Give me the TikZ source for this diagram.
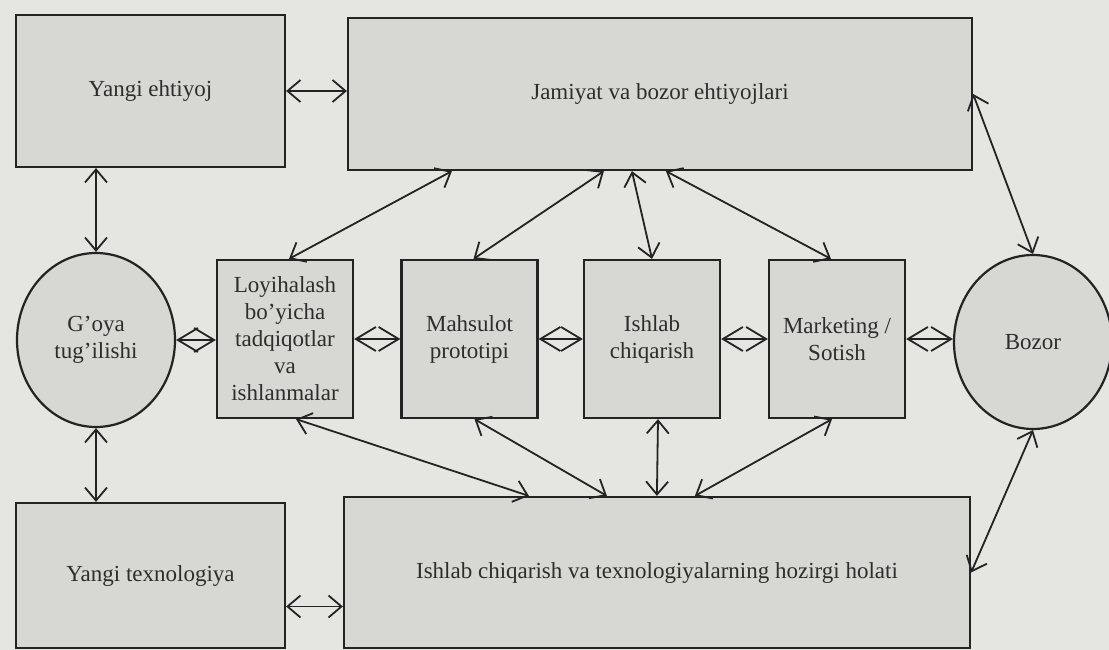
\documentclass[tikz,border=0pt]{standalone}
\usepackage{fontspec}
\setmainfont{Liberation Serif}
\usetikzlibrary{arrows.meta,shapes.geometric}

\definecolor{paper}{RGB}{229,229,225}
\definecolor{boxfill}{RGB}{215,215,212}
\definecolor{inkline}{RGB}{35,35,35}
\definecolor{inktext}{RGB}{45,45,45}

\tikzset{
	blok/.style={draw=inkline, line width=2.2pt, fill=boxfill, text=inktext, align=center, inner sep=0pt, font=\fontsize{23}{27}\selectfont},
	doira/.style={blok, ellipse, minimum width=158pt, minimum height=174pt},
	orta/.style={blok, minimum width=136pt, minimum height=158pt},
	ikki/.style={draw=inkline, line width=1.8pt, {Straight Barb[length=13pt,width=22pt]}-{Straight Barb[length=13pt,width=22pt]}},
	romb/.style={draw=inkline, line width=1.8pt, {Straight Barb[length=20pt,width=24pt]}-{Straight Barb[length=20pt,width=24pt]}}
}

\begin{document}
\begin{tikzpicture}[x=1pt,y=-1pt]
	\useasboundingbox (0,0) rectangle (1109,650);
	\fill[paper] (0,0) rectangle (1109,650);
	
	\node[blok, minimum width=269pt, minimum height=152pt] (yangi) at (150.5,91) {Yangi ehtiyoj};
	\node[blok, minimum width=624pt, minimum height=152pt] (jamiyat) at (660,94) {Jamiyat va bozor ehtiyojlari};
	\node[doira] (goya) at (96,340) {G'oya\\tug'ilishi};
	\node[orta] (loyiha) at (285,339) {Loyihalash\\bo'yicha\\tadqiqotlar\\va\\ishlanmalar};
	\node[orta] (mahsulot) at (469.5,339) {Mahsulot\\prototipi};
	\node[orta] (ishlab) at (652,339) {Ishlab\\chiqarish};
	\node[orta] (marketing) at (837,339) {Marketing /\\Sotish};
	\node[doira] (bozor) at (1033,342) {Bozor};
	\node[blok, minimum width=269pt, minimum height=145pt] (texno) at (150.5,575.5) {Yangi texnologiya};
	\node[blok, minimum width=626pt, minimum height=151pt] (holat) at (657,572.5) {Ishlab chiqarish va texnologiyalarning hozirgi holati};
	
	\coordinate (tx) at ([yshift=-31pt]texno.east);
	
	\draw[ikki] (yangi.east) -- (yangi.east -| jamiyat.west);
	\draw[ikki] (tx) -- (tx -| holat.west);
	\draw[ikki] (yangi.south -| goya.north) -- (goya.north);
	\draw[ikki] (goya.south) -- (goya.south |- texno.north);
	
	\draw[romb] (goya.east) -- (goya.east -| loyiha.west);
	\draw[romb] (loyiha.east) -- (mahsulot.west);
	\draw[romb] (mahsulot.east) -- (ishlab.west);
	\draw[romb] (ishlab.east) -- (marketing.west);
	\draw[romb] (marketing.east) -- (marketing.east -| bozor.west);
	
	\draw[ikki] ([xshift=105pt]jamiyat.south west) -- ([xshift=4pt]loyiha.north);
	\draw[ikki] ([xshift=257pt]jamiyat.south west) -- ([xshift=4pt]mahsulot.north);
	\draw[ikki] ([xshift=285pt]jamiyat.south west) -- (ishlab.north);
	\draw[ikki] ([xshift=319pt]jamiyat.south west) -- ([xshift=-6pt]marketing.north);
	\draw[ikki] (jamiyat.east) -- (bozor.north);
	
	\draw[ikki] ([xshift=11pt]loyiha.south) -- ([xshift=186pt]holat.north west);
	\draw[ikki] ([xshift=5pt]mahsulot.south) -- ([xshift=264pt]holat.north west);
	\draw[ikki] ([xshift=6pt]ishlab.south) -- ([xshift=314pt]holat.north west);
	\draw[ikki] ([xshift=-5pt]marketing.south) -- ([xshift=352pt]holat.north west);
	\draw[ikki] (bozor.south) -- (holat.east);
\end{tikzpicture}
\end{document}
